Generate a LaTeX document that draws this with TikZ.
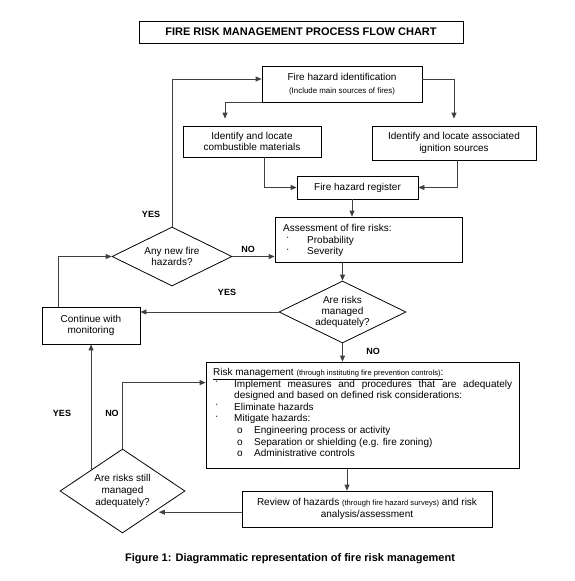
\documentclass[tikz,border=0pt]{standalone}
\usepackage{fontspec}
\setmainfont{Liberation Sans}
\usetikzlibrary{shapes.geometric,arrows.meta,calc}
\newcommand{\smalltxt}{\fontsize{7.6}{9}\selectfont}
\newcommand{\bul}{\makebox[21pt][l]{\hspace{2pt}\raisebox{2.5pt}{·}}}
\newcommand{\subbul}{\hspace*{24pt}\makebox[17pt][l]{o}}
\begin{document}
\begin{tikzpicture}[x=1pt,y=-1pt,
  box/.style={draw=black, line width=0.8pt, rectangle, inner sep=0pt, align=center, font=\fontsize{10}{11.5}\selectfont},
  dia/.style={draw=black, line width=0.8pt, diamond, aspect=2, inner sep=0pt, align=center, font=\fontsize{10}{11.3}\selectfont},
  arr/.style={draw=black!75, line width=0.8pt, -{Triangle[length=6pt,width=5pt]}},
  lbl/.style={font=\bfseries\fontsize{9}{11}\selectfont, inner sep=0pt}]
\useasboundingbox (0,0) rectangle (575,581);

\node[box, minimum width=324pt, minimum height=22pt, font=\bfseries\fontsize{11}{13}\selectfont] (title) at (301,32) {FIRE RISK MANAGEMENT PROCESS FLOW CHART};

\node[box, minimum width=160pt, minimum height=36pt] (fhi) at (342,84) {Fire hazard identification\\[1pt]{\fontsize{7.9}{9}\selectfont(Include main sources of fires)}};
\node[box, minimum width=138pt, minimum height=31pt] (comb) at (252,141.5) {Identify and locate\\combustible materials};
\node[box, minimum width=164pt, minimum height=34pt] (ign) at (454,143) {Identify and locate associated\\ignition sources};
\node[box, minimum width=121pt, minimum height=23pt] (reg) at (357.5,187.5) {Fire hazard register};

\node[box, minimum width=187pt, minimum height=45pt] (assess) at (368.5,239.5) {};
\node[anchor=north west, inner sep=0pt, align=left, font=\fontsize{10}{11.7}\selectfont] (assesstxt) at (283,224) {Assessment of fire risks:\\\hspace*{3pt}\makebox[21pt][l]{\raisebox{2.5pt}{·}}Probability\\\hspace*{3pt}\makebox[21pt][l]{\raisebox{2.5pt}{·}}Severity};

\node[dia, minimum width=120pt, minimum height=59pt] (d1) at (172,256.5) {Any new fire\\hazards?};
\node[dia, minimum width=127pt, minimum height=62pt] (d2) at (342.5,312) {Are risks\\managed\\adequately?};
\node[box, minimum width=98pt, minimum height=37pt] (cont) at (91,325.5) {Continue with\\monitoring};

\node[box, minimum width=313pt, minimum height=106pt] (rm) at (362.5,415) {};
\node[anchor=north west, inner sep=0pt, text width=299pt, align=justify, font=\fontsize{10}{11.6}\selectfont] (rmtxt) at (213,368) {%
\hyphenpenalty=10000\exhyphenpenalty=10000
\noindent\underline{Risk management {\smalltxt(through instituting fire prevention controls)}:}\par
\noindent\hangindent=21pt\hangafter=1\bul Implement measures and procedures that are adequately designed and based on defined risk considerations:\par
\noindent\bul Eliminate hazards\par
\noindent\bul Mitigate hazards:\par
\noindent\subbul Engineering process or activity\par
\noindent\subbul Separation or shielding (e.g. fire zoning)\par
\noindent\subbul Administrative controls\par};

\node[box, minimum width=250pt, minimum height=36pt] (rev) at (367,509) {Review of hazards {\smalltxt(through fire hazard surveys)} and risk\\analysis/assessment};
\node[dia, minimum width=125pt, minimum height=84pt] (d3) at (122.5,491) {Are risks still\\[1pt]managed\\[1pt]adequately?};

\node[inner sep=0pt, font=\bfseries\fontsize{11}{13}\selectfont] (cap) at (290,559) {Figure 1: Diagrammatic representation of fire risk management};

% connectors
\draw[arr] (d1.north) |- ([yshift=5pt]fhi.west);
\draw[arr, shorten >=7pt] (fhi.south west) -| ([xshift=-27pt]comb.north);
\draw[arr, shorten >=7pt] ([yshift=5pt]fhi.east) -| (ign.north);
\draw[arr] ([xshift=12pt]comb.south) |- (reg.west);
\draw[arr] ([xshift=3pt]ign.south) |- (reg.east);
\coordinate (regout) at ([xshift=-5.5pt]reg.south);
\draw[arr] (regout) -- (regout |- assess.north);
\draw[arr] (d1.east) -- (d1.east -| assess.west);
\draw[arr] (d2.north |- assess.south) -- (d2.north);
\draw[arr] (d2.west) -- (d2.west -| cont.east);
\draw[arr] ([xshift=-33pt]cont.north) |- (d1.west);
\draw[arr] (d2.south) -- (d2.south |- rm.north);
\coordinate (rmout) at ([xshift=-15.5pt]rm.south);
\draw[arr] (rmout) -- (rmout |- rev.north);
\coordinate (d3se) at ($(d3.east)!0.5!(d3.south)$);
\draw[arr, shorten >=5pt] (d3se -| rev.west) -- (d3se);
\draw[arr] (d3.north) |- ([yshift=-21pt]rm.north west);
\coordinate (d3nw) at ($(d3.west)!0.5!(d3.north)$);
\draw[arr] (d3nw) -- (d3nw |- cont.south);

% labels
\node[lbl] (yes1) at (151,214) {YES};
\node[lbl] (no1) at (248,249) {NO};
\node[lbl] (yes2) at (227,292) {YES};
\node[lbl] (no2) at (373,351) {NO};
\node[lbl] (yes3) at (62,413) {YES};
\node[lbl] (no3) at (112,413) {NO};
\end{tikzpicture}
\end{document}
